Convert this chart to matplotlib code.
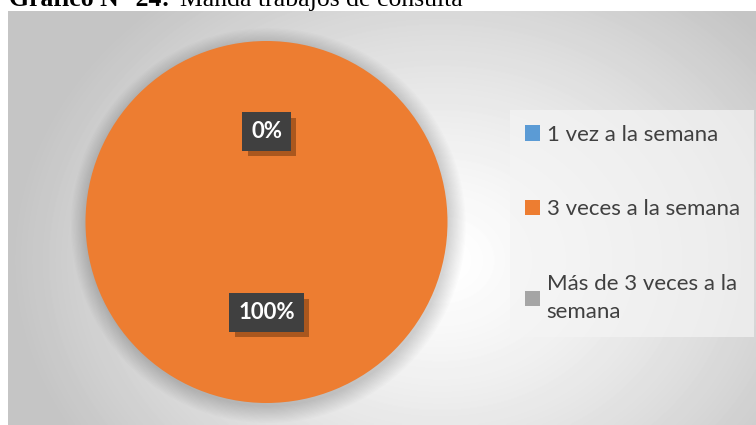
import matplotlib
matplotlib.use("Agg")
import matplotlib.pyplot as plt
import matplotlib.patheffects as pe
import numpy as np

W, H = 756, 425
categories = ["1 vez a la semana", "3 veces a la semana", "Más de 3 veces a la\nsemana"]
values = [0, 100, 0]
colors = ["#5B9BD5", "#ED7D31", "#A5A5A5"]

fig = plt.figure(figsize=(W / 100, H / 100), dpi=100)
fig.patch.set_facecolor("white")

# background panel with radial gradient
bg = fig.add_axes([8 / W, 0, 1 - 8 / W, 1 - 11 / H])
yy, xx = np.mgrid[11:H, 8:W]
d = np.hypot((xx - 440) / 1.0, (yy - 260) / 0.8)
g = np.clip(d / 430, 0, 1)
shade = 1.0 - 0.23 * g ** 1.3
bg.imshow(shade, cmap="gray", vmin=0, vmax=1, aspect="auto",
          extent=[0, 1, 0, 1], interpolation="bilinear")
bg.set_axis_off()

# title (clipped at top like the reference)
fig.text(9 / W, 1 - 6 / H, "Gráfico N° 24:", fontfamily="Liberation Serif",
         fontweight="bold", fontsize=18.5, va="baseline", ha="left")
fig.text(180 / W, 1 - 6 / H, "Manda trabajos de consulta", fontfamily="Liberation Serif",
         fontsize=18.5, va="baseline", ha="left")

# pie
cx, cy, r = 266.5, 222, 181
k = 1.15
ax = fig.add_axes([(cx - k * r) / W, (H - cy - k * r) / H, 2 * k * r / W, 2 * k * r / H])
# soft shadow around the pie
for i in range(14):
    ax.add_patch(plt.Circle((0.01, -0.02), 1.0 + 0.007 * i, color="black",
                            alpha=0.012, lw=0, zorder=0))
wedges, _ = ax.pie(values, colors=colors, startangle=90, counterclock=False,
                   radius=1.0, wedgeprops={"linewidth": 0})
ax.set_xlim(-k, k); ax.set_ylim(-k, k)
ax.set_aspect("auto")

total = sum(values)
shown = set()
for w, v in zip(wedges, values):
    pct = f"{v / total:.0%}"
    mid = np.deg2rad((w.theta1 + w.theta2) / 2)
    key = (round(np.cos(mid), 3), round(np.sin(mid), 3))
    if key in shown:
        continue
    shown.add(key)
    t = ax.text(0.5 * np.cos(mid), 0.5 * np.sin(mid), pct, ha="center", va="center",
                color="white", fontweight="bold", fontsize=16, fontfamily="Lato",
                bbox=dict(boxstyle="square,pad=0.4", fc="#404040", ec="none"))
    t.get_bbox_patch().set_path_effects(
        [pe.SimplePatchShadow(offset=(4, -4), shadow_rgbFace="#5a2a08", alpha=0.45),
         pe.Normal()])

# legend
handles = [plt.Rectangle((0, 0), 1, 1, fc=c, ec="none") for c in colors]
leg = fig.legend(handles, categories, loc="upper left",
                 bbox_to_anchor=(517 / W, 1 - 117 / H), frameon=True,
                 prop={"family": "Lato", "size": 16}, labelcolor="#404040",
                 handlelength=0.68, handleheight=0.68, handletextpad=0.3,
                 labelspacing=2.45, borderpad=0.35, borderaxespad=0)
for t in leg.get_texts():
    t.set_linespacing(1.55)
fr = leg.get_frame()
fr.set_facecolor("#f4f4f4"); fr.set_alpha(0.7); fr.set_edgecolor("none")
fr.set_boxstyle("square")

fig.savefig("out.png", dpi=100)
